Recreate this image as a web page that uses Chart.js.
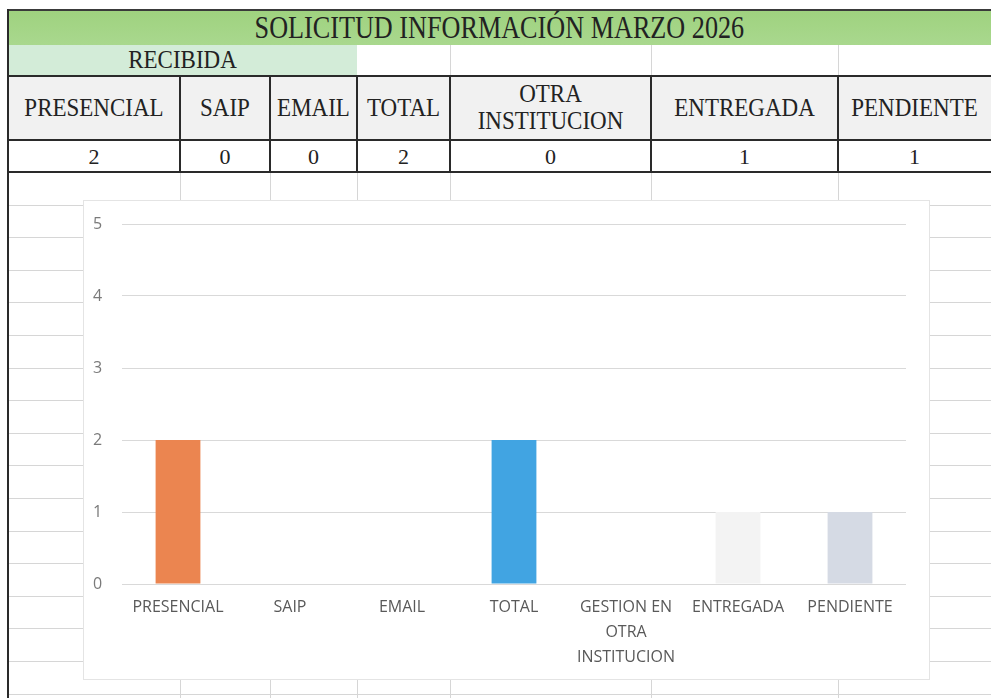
<!DOCTYPE html>
<html>
<head>
<meta charset="utf-8">
<script src="https://cdn.jsdelivr.net/npm/chart.js@4.4.1/dist/chart.umd.min.js"></script>
<style>
  html,body{margin:0;padding:0;background:#fff;width:991px;height:698px;overflow:hidden;}
  .abs{position:absolute;box-sizing:border-box;}
  .serif{font-family:"Liberation Serif","DejaVu Serif",serif;color:#222;}
  .cell{display:flex;align-items:center;justify-content:center;text-align:center;line-height:1.05;}
  .hline{position:absolute;height:0;border-top:1px solid #d6d6d6;}
  .vline{position:absolute;width:0;border-left:1px solid #d6d6d6;}
  #c{display:block;}
</style>
</head>
<body>
<div id="sheet"></div>
<div class="abs" id="chartBox" style="left:83px;top:200px;width:847px;height:480px;background:#fff;border:1px solid #e4e4e4;">
  <canvas id="c" width="845" height="478" style="width:845px;height:478px"></canvas>
</div>
<script>
// ---- data ----
const titleText = 'SOLICITUD INFORMACIÓN MARZO 2026';
const groupLabel = 'RECIBIDA';
const tableHeaders = ['PRESENCIAL','SAIP','EMAIL','TOTAL',['OTRA','INSTITUCION'],'ENTREGADA','PENDIENTE'];
const categories = ['PRESENCIAL','SAIP','EMAIL','TOTAL',['GESTION EN','OTRA','INSTITUCION'],'ENTREGADA','PENDIENTE'];
const values = [2,0,0,2,0,1,1];
const yTicks = [0,1,2,3,4,5];
const barColors = ['#eb8550','#a5a5a5','#ffc000','#41a4e2','#70ad47','#f3f3f3','#d5dae4'];

// ---- spreadsheet layout ----
const sheet = document.getElementById('sheet');
const colEdges = [8,180,270,357,450,651,838,991];
function add(html){ sheet.insertAdjacentHTML('beforeend', html); }

// faint grid below table
for (let y = 172 + 32.6; y < 698; y += 32.6) {
  add(`<div class="hline" style="left:8px;width:983px;top:${Math.round(y)}px"></div>`);
}
for (let i = 1; i < colEdges.length - 1; i++) {
  add(`<div class="vline" style="left:${colEdges[i]}px;top:172px;height:526px"></div>`);
}
// row 2 faint verticals
[450,651,838].forEach(x => add(`<div class="vline" style="left:${x}px;top:45px;height:30px"></div>`));

// title band
add(`<div class="abs cell serif" style="left:8px;top:9px;width:983px;height:36px;background:linear-gradient(#9fd27f,#a9d88e);border-top:2px solid #3a3a3a;font-size:27px;"><span style="display:inline-block;transform:scale(0.97,1.15);">${titleText}</span></div>`);
// RECIBIDA
add(`<div class="abs cell serif" style="left:8px;top:45px;width:349px;height:30px;background:#d3ecd8;font-size:23px;"><span style="display:inline-block;transform:scaleY(1.1)">${groupLabel}</span></div>`);
// header row
add(`<div class="abs" style="left:8px;top:75px;width:983px;height:66px;background:#f1f1f1;border-top:2px solid #2a2a2a;border-bottom:2px solid #2a2a2a;"></div>`);
// value row
add(`<div class="abs" style="left:8px;top:141px;width:983px;height:32px;background:#fff;border-bottom:2px solid #2a2a2a;"></div>`);
for (let i = 0; i < tableHeaders.length; i++) {
  const l = colEdges[i], w = colEdges[i+1] - colEdges[i];
  const h = Array.isArray(tableHeaders[i]) ? tableHeaders[i].join('<br>') : tableHeaders[i];
  add(`<div class="abs cell serif" style="left:${l}px;top:77px;width:${w}px;height:62px;font-size:23px;white-space:nowrap;"><span style="display:inline-block;transform:scaleY(1.12)">${h}</span></div>`);
  add(`<div class="abs cell serif" style="left:${l}px;top:141px;width:${w}px;height:31px;font-size:22px;">${values[i]}</div>`);
  if (i > 0) add(`<div class="abs" style="left:${l-1}px;top:75px;width:2px;height:98px;background:#2a2a2a"></div>`);
}
// outer left border
add(`<div class="abs" style="left:7px;top:9px;width:2px;height:689px;background:#2a2a2a"></div>`);

// ---- chart ----
const cv = document.getElementById('c');
new Chart(cv, {
  type: 'bar',
  data: {
    labels: categories,
    datasets: [{ data: values, backgroundColor: barColors, borderWidth: 0, barPercentage: 0.4, categoryPercentage: 1.0 }]
  },
  options: {
    responsive: false,
    animation: false,
    devicePixelRatio: 1,
    layout: { padding: { top: 23, right: 23, left: 9, bottom: 0 } },
    plugins: { legend: { display: false }, tooltip: { enabled: false }, title: { display: false } },
    scales: {
      x: {
        grid: { display: false, drawTicks: false },
        border: { display: false },
        ticks: { color: '#595959', font: { family: 'Open Sans', size: 16, lineHeight: 1.55 }, padding: 11, maxRotation: 0, autoSkip: false },
        afterFit: s => { s.height = 95; }
      },
      y: {
        min: 0, max: 5,
        afterBuildTicks: s => { s.ticks = yTicks.map(v => ({ value: v })); },
        grid: { color: '#d9d9d9', lineWidth: 1, drawTicks: false },
        border: { display: false },
        ticks: { color: '#7a7a7a', font: { family: 'Open Sans', size: 16 }, padding: 3, crossAlign: 'far' },
        afterFit: s => { s.width = 29; }
      }
    }
  }
});
</script>
</body>
</html>
